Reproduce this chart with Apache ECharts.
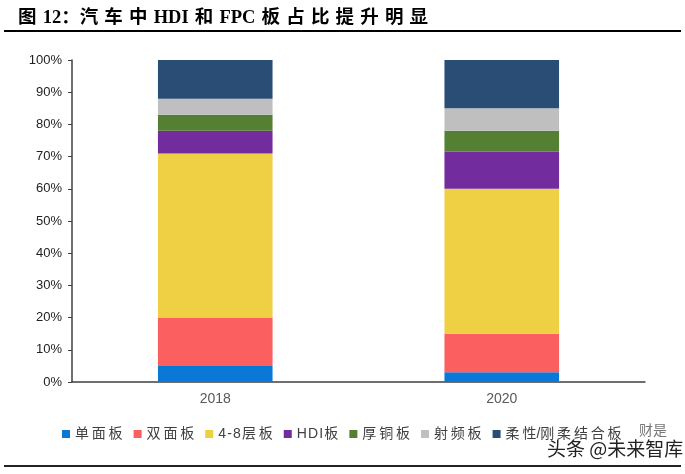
<!DOCTYPE html>
<html>
<head>
<meta charset="utf-8">
<style>html,body{margin:0;padding:0;background:#fff}#chart{width:685px;height:474px}</style>
<script src="https://cdn.jsdelivr.net/npm/echarts@6/dist/echarts.min.js"></script>
</head>
<body>
<div id="chart"></div>
<script>
var categories = ['2018', '2020'];
var names = ['单面板', '双面板', '4-8层板', 'HDI板', '厚铜板', '射频板', '柔性/刚柔结合板'];
var colors = ['#0a78d7', '#fb5f5f', '#efcf44', '#722c9e', '#558033', '#bfbfbf', '#294d75'];
var danmian = [5, 3];
var shuangmian = [15, 12];
var ceng48 = [51, 45];
var hdi = [7, 11.5];
var houtong = [5, 6.5];
var shepin = [5, 7];
var rouxing = [12, 15];
var values = [danmian, shuangmian, ceng48, hdi, houtong, shepin, rouxing];
var titleWords = ['图', '12：汽', '车', '中', 'HDI', '和', 'FPC', '板', '占', '比', '提', '升', '明', '显'];
var watermark = '头条 @未来智库';
var watermark2 = '财是';

var chart = echarts.init(document.getElementById('chart'));
var option = {
    animation: false,
    textStyle: {fontFamily: 'Liberation Sans, Noto Sans CJK SC'},
    title: {
        text: titleWords.join(' \u200a'),
        left: 13,
        top: 4,
        textStyle: {fontFamily: 'Liberation Serif, Noto Sans CJK SC', fontSize: 18.5, fontWeight: 'bold', color: '#000'}
    },
    legend: {
        data: names,
        left: 57,
        top: 422,
        icon: 'rect',
        itemWidth: 8,
        itemHeight: 8,
        itemGap: 11,
        // the source spaces its legend glyphs out
        formatter: function (name) {
            return name.replace(/([\u4e00-\u9fff])(?=[\u4e00-\u9fff])/g, '$1\u2009')
                .replace(/([0-9A-Z\-])/g, '$1\u200a');
        },
        textStyle: {fontSize: 14, color: '#404040'}
    },
    grid: {left: 72, right: 40, top: 60, bottom: 92},
    xAxis: {
        type: 'category',
        data: categories,
        axisTick: {show: false},
        axisLine: {lineStyle: {color: '#404040', width: 1.5}},
        axisLabel: {fontSize: 14, color: '#595959', margin: 10}
    },
    yAxis: {
        type: 'value',
        min: 0,
        max: 100,
        interval: 10,
        splitLine: {show: false},
        axisLine: {show: true, lineStyle: {color: '#404040', width: 1.5}},
        axisTick: {show: true, length: 4, lineStyle: {color: '#404040'}},
        axisLabel: {fontSize: 13, color: '#222', margin: 10, formatter: '{value}%'}
    },
    series: names.map(function (name, i) {
        return {
            name: name,
            type: 'bar',
            stack: 'total',
            barWidth: '40%',
            itemStyle: {color: colors[i]},
            data: values[i]
        };
    }),
    graphic: [
        {type: 'line', shape: {x1: 4, y1: 31, x2: 681, y2: 31}, style: {stroke: '#000', lineWidth: 2}},
        {type: 'line', shape: {x1: 4, y1: 466, x2: 681, y2: 466}, style: {stroke: '#222', lineWidth: 2}},
        {type: 'text', x: 639, y: 423, style: {text: watermark2, fontSize: 14, fill: '#777', fontFamily: 'Noto Sans CJK SC'}},
        {type: 'text', x: 547, y: 439, style: {text: watermark, fontSize: 19, fill: '#222', stroke: '#fff', lineWidth: 2, fontFamily: 'Noto Sans CJK SC'}}
    ]
};
chart.setOption(option);
</script>
</body>
</html>
